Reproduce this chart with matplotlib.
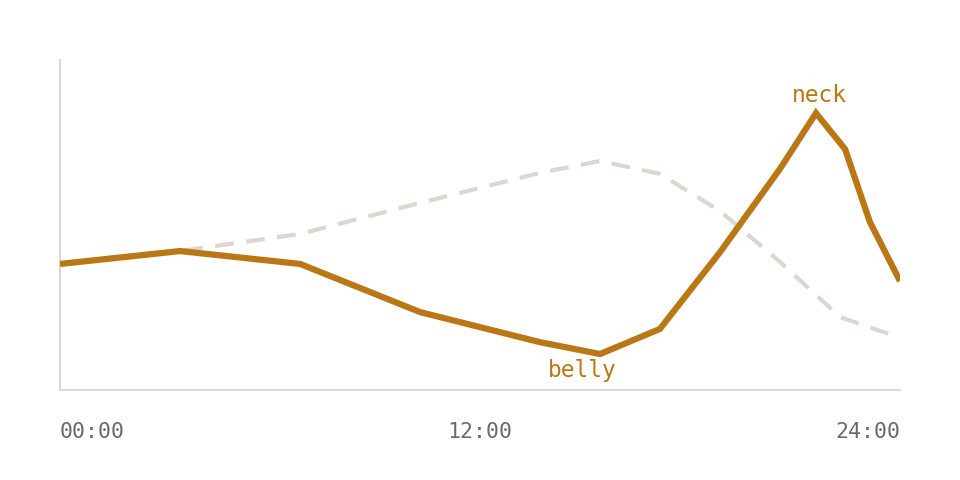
import matplotlib.pyplot as plt

# hours of day and levels (arbitrary units, 0..100)
hours_main = [0, 3.43, 6.86, 10.29, 13.71, 15.43, 17.14, 18.86, 20.57, 21.6, 22.43, 23.14, 24]
level_main = [38.2, 42.1, 38.2, 23.6, 14.5, 10.9, 18.5, 41.8, 67.0, 83.9, 73.0, 50.9, 33.0]

hours_ref = [0, 3.43, 6.86, 10.29, 13.71, 15.43, 17.14, 18.86, 20.57, 22.29, 24]
level_ref = [38.2, 42.1, 47.3, 56.7, 65.8, 69.4, 65.5, 54.2, 38.8, 22.1, 15.8]

tick_pos = [0, 12, 24]
tick_labels = ["00:00", "12:00", "24:00"]

ORANGE = "#b97716"
GREY_DASH = "#d9d7ce"
AXIS_COL = "#dcd9d5"
TEXT_COL = "#6b6a63"
MONO = ["DejaVu Sans Mono"]

fig = plt.figure(figsize=(9.6, 4.8), dpi=100)
ax = fig.add_axes([60 / 960, 90 / 480, 840 / 960, 330 / 480])

ax.plot(hours_ref, level_ref, color=GREY_DASH, lw=3.0, dashes=(4.5, 3.0),
        solid_capstyle="butt", dash_capstyle="butt", zorder=2)
ax.plot(hours_main, level_main, color=ORANGE, lw=4.5,
        solid_capstyle="butt", solid_joinstyle="miter", zorder=3)

ax.set_xlim(0, 24)
ax.set_ylim(0, 100)

for side in ("top", "right"):
    ax.spines[side].set_visible(False)
for side in ("left", "bottom"):
    ax.spines[side].set_color(AXIS_COL)
    ax.spines[side].set_linewidth(1.5)

ax.set_yticks([])
ax.set_xticks(tick_pos)
ax.set_xticklabels(tick_labels, family=MONO, fontsize=15.5, color=TEXT_COL)
ax.tick_params(axis="x", length=0, pad=23)
labels = ax.get_xticklabels()
labels[0].set_ha("left")
labels[-1].set_ha("right")

ax.text(21.71, 87.3, "neck", family=MONO, fontsize=16.5, color=ORANGE,
        ha="center", va="baseline")
ax.text(14.92, 4.0, "belly", family=MONO, fontsize=16.5, color=ORANGE,
        ha="center", va="baseline")

fig.savefig("out.png", dpi=100)
